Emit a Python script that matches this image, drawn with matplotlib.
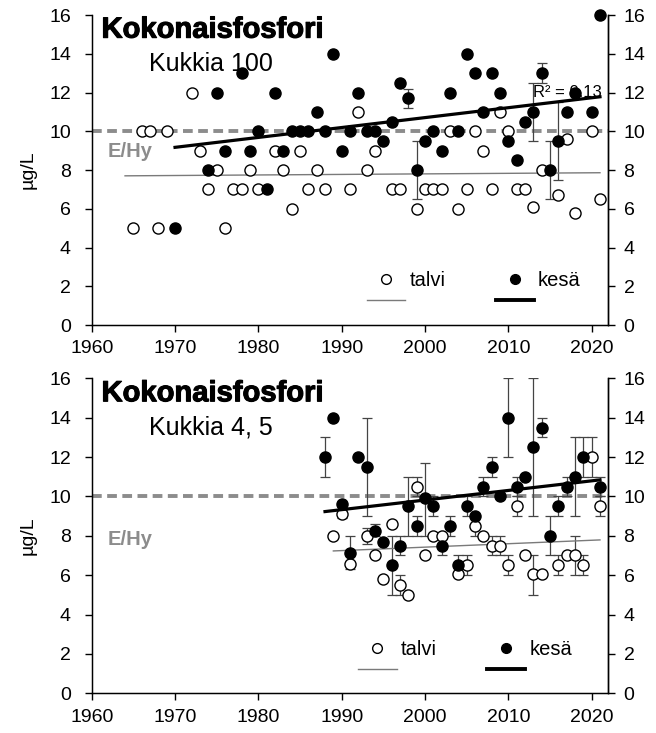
import matplotlib
matplotlib.use('Agg')
import matplotlib.pyplot as plt
import matplotlib.patheffects as pe
from matplotlib.lines import Line2D
import numpy as np

plt.rcParams['font.family'] = ['Liberation Sans', 'DejaVu Sans']

# --- Kukkia 100 (top panel) ---
top_talvi_years = [1965, 1966, 1967, 1968, 1969, 1972, 1973, 1974, 1975, 1976,
                   1977, 1978, 1979, 1980, 1982, 1983, 1984, 1985, 1986, 1987,
                   1988, 1991, 1992, 1993, 1994, 1996, 1997, 1999, 2000, 2001,
                   2002, 2003, 2004, 2005, 2006, 2007, 2008, 2009, 2010, 2011,
                   2012, 2013, 2014, 2016, 2017, 2018, 2020, 2021]
top_talvi_vals = [5, 10, 10, 5, 10, 12, 9, 7, 8, 5,
                  7, 7, 8, 7, 9, 8, 6, 9, 7, 8,
                  7, 7, 11, 8, 9, 7, 7, 6, 7, 7,
                  7, 10, 6, 7, 10, 9, 7, 11, 10, 7,
                  7, 6.1, 8, 6.7, 9.6, 5.8, 10, 6.5]

top_kesa_years = [1970, 1974, 1975, 1976, 1978, 1979, 1980, 1981, 1982, 1983,
                  1984, 1985, 1986, 1987, 1988, 1989, 1990, 1991, 1992, 1993,
                  1994, 1995, 1996, 1997, 1998, 1999, 2000, 2001, 2002, 2003,
                  2004, 2005, 2006, 2007, 2008, 2009, 2010, 2011, 2012, 2013,
                  2014, 2015, 2016, 2017, 2018, 2020, 2021]
top_kesa_vals = [5, 8, 12, 9, 13, 9, 10, 7, 12, 9,
                 10, 10, 10, 11, 10, 14, 9, 10, 12, 10,
                 10, 9.5, 10.5, 12.5, 11.7, 8, 9.5, 10, 9, 12,
                 10, 14, 13, 11, 13, 12, 9.5, 8.5, 10.5, 11,
                 13, 8, 9.5, 11, 12, 11, 16]

top_kesa_err_years = [1998, 1999, 2013, 2014, 2015, 2016]
top_kesa_err_low = [11.2, 6.5, 9.5, 12.5, 6.5, 7.5]
top_kesa_err_high = [12.2, 9.5, 12.5, 13.5, 9.5, 11.5]

top_talvi_trend_years = [1964, 2021]
top_talvi_trend_vals = [7.7, 7.86]
top_kesa_trend_years = [1970, 2021]
top_kesa_trend_vals = [9.17, 11.78]

# --- Kukkia 4, 5 (bottom panel) ---
bot_talvi_years = [1989, 1990, 1991, 1993, 1994, 1995, 1996, 1997, 1998, 1999,
                   2000, 2001, 2002, 2004, 2005, 2006, 2007, 2008, 2009, 2010,
                   2011, 2012, 2013, 2014, 2016, 2017, 2018, 2019, 2020, 2021]
bot_talvi_vals = [8.0, 9.1, 6.55, 8.0, 7.0, 5.8, 8.6, 5.5, 5.0, 10.5,
                  7.0, 8.0, 8.0, 6.05, 6.5, 8.5, 8.0, 7.5, 7.5, 6.5,
                  9.5, 7.0, 6.05, 6.05, 6.5, 7.0, 7.0, 6.5, 12.0, 9.5]

bot_talvi_err_years = [1990, 1993, 1997, 1999, 2005, 2006, 2008, 2009, 2010,
                       2011, 2013, 2016, 2018, 2019, 2020, 2021]
bot_talvi_err_low = [8.9, 7.6, 5.0, 10.0, 6.0, 8.0, 7.0, 7.0, 6.0,
                     9.0, 5.0, 6.0, 6.0, 6.0, 11.0, 9.0]
bot_talvi_err_high = [9.3, 8.4, 6.0, 11.0, 7.0, 9.0, 8.0, 8.0, 7.0,
                      10.0, 7.0, 7.0, 8.0, 7.0, 13.0, 10.0]

bot_kesa_years = [1988, 1989, 1990, 1991, 1992, 1993, 1994, 1995, 1996, 1997,
                  1998, 1999, 2000, 2001, 2002, 2003, 2004, 2005, 2006, 2007,
                  2008, 2009, 2010, 2011, 2012, 2013, 2014, 2015, 2016, 2017,
                  2018, 2019, 2021]
bot_kesa_vals = [12.0, 14.0, 9.6, 7.15, 12.0, 11.5, 8.25, 7.7, 6.5, 7.5,
                 9.5, 8.5, 9.9, 9.5, 7.5, 8.5, 6.5, 9.5, 9.0, 10.5,
                 11.5, 10.0, 14.0, 10.5, 11.0, 12.5, 13.5, 8.0, 9.5, 10.5,
                 11.0, 12.0, 10.5]

bot_kesa_err_years = [1988, 1991, 1993, 1994, 1996, 1997, 1998, 1999, 2000,
                      2001, 2002, 2003, 2004, 2005, 2007, 2008, 2010, 2011,
                      2013, 2014, 2015, 2016, 2017, 2018, 2019, 2021]
bot_kesa_err_low = [11.0, 6.3, 9.0, 8.0, 5.0, 7.0, 8.0, 8.0, 8.0,
                    9.0, 7.0, 8.0, 6.0, 9.0, 10.0, 11.0, 12.0, 10.0,
                    9.0, 13.0, 7.0, 9.0, 10.0, 9.0, 11.0, 10.0]
bot_kesa_err_high = [13.0, 8.0, 14.0, 8.6, 8.0, 8.0, 11.0, 9.0, 11.7,
                     10.0, 8.0, 9.0, 7.0, 10.0, 11.0, 12.0, 16.0, 11.0,
                     16.0, 14.0, 9.0, 10.0, 11.0, 13.0, 13.0, 11.0]

bot_talvi_trend_years = [1989, 2021]
bot_talvi_trend_vals = [7.23, 7.79]
bot_kesa_trend_years = [1988, 2021]
bot_kesa_trend_vals = [9.23, 10.84]

limit_value = 10  # E/Hy raja


def draw_errors(ax, years, vals, err_years, low, high):
    "Draw error bars for the years that have them"
    lookup = dict(zip(years, vals))
    y = np.array([lookup[yr] for yr in err_years])
    yerr = [y - np.array(low), np.array(high) - y]
    ax.errorbar(err_years, y, yerr=yerr, fmt='none', ecolor='#444444',
                elinewidth=0.9, capsize=3.5, capthick=0.9, zorder=2)


def panel(ax, subtitle, talvi, kesa, talvi_err, kesa_err, talvi_trend, kesa_trend,
          r2=None, leg_anchor=(0.53, 0.19)):
    ax.axhline(limit_value, color='#8c8c8c', lw=2.8, ls=(0, (2.5, 1.4)), zorder=1)
    if talvi_err:
        draw_errors(ax, *talvi, *talvi_err)
    if kesa_err:
        draw_errors(ax, *kesa, *kesa_err)
    ax.plot(*talvi_trend, color='#7a7a7a', lw=1.0, zorder=3)
    ax.plot(talvi[0], talvi[1], 'o', ms=8, mfc='white', mec='black', mew=1.0,
            ls='none', zorder=4, clip_on=False)
    ax.plot(kesa[0], kesa[1], 'o', ms=8, mfc='black', mec='black', mew=1.0,
            ls='none', zorder=5, clip_on=False)
    ax.plot(*kesa_trend, color='black', lw=2.3, zorder=6)

    ax.set_xlim(1960, 2022)
    ax.set_ylim(0, 16)
    ax.set_xticks(range(1960, 2021, 10))
    ax.set_yticks(range(0, 17, 2))
    ax.tick_params(axis='both', direction='out', length=5, width=1, labelsize=14)
    ax.tick_params(axis='y', pad=10)
    ax.tick_params(axis='x', pad=6)
    ax.spines['top'].set_visible(False)
    for s in ['left', 'right', 'bottom']:
        ax.spines[s].set_linewidth(1.0)
    ax.set_ylabel('µg/L', fontsize=14, labelpad=9)

    # right-hand axis with its own, smaller label pad
    axr = ax.twinx()
    axr.set_ylim(0, 16)
    axr.set_yticks(range(0, 17, 2))
    axr.tick_params(axis='y', direction='out', length=5, width=1, labelsize=14, pad=6)
    axr.spines['top'].set_visible(False)
    axr.spines['right'].set_linewidth(1.0)

    ax.text(0.019, 0.927, 'Kokonaisfosfori', transform=ax.transAxes,
            fontsize=21, fontweight='bold', va='baseline', ha='left',
            path_effects=[pe.withStroke(linewidth=0.8, foreground='black')])
    ax.text(0.111, 0.821, subtitle, transform=ax.transAxes,
            fontsize=18, va='baseline', ha='left')
    ax.text(0.03, 0.543 if r2 else 0.471, 'E/Hy', transform=ax.transAxes,
            fontsize=14.5, fontweight='bold', color='#8c8c8c', va='baseline')
    if r2:
        ax.text(0.855, 0.736, r2, transform=ax.transAxes, fontsize=12,
                va='baseline', ha='left')

    handles = [
        Line2D([], [], marker='o', ls='none', ms=7, mfc='white', mec='black'),
        Line2D([], [], color='#7a7a7a', lw=1.0),
        Line2D([], [], marker='o', ls='none', ms=7, mfc='black', mec='black'),
        Line2D([], [], color='black', lw=2.8),
    ]
    ax.legend(handles, ['talvi', '', 'kesä', ''], ncol=2, frameon=False,
              loc='upper left', bbox_to_anchor=leg_anchor, borderpad=0,
              fontsize=14.5, handlelength=1.9, handletextpad=0.2,
              columnspacing=2.5, labelspacing=0.1, borderaxespad=0)


fig = plt.figure(figsize=(6.56, 7.33), dpi=100)
ax1 = fig.add_axes([0.1398, 0.5566, 0.7875, 0.4229])
ax2 = fig.add_axes([0.1398, 0.0542, 0.7875, 0.4297])

panel(ax1, 'Kukkia 100',
      (top_talvi_years, top_talvi_vals), (top_kesa_years, top_kesa_vals),
      None, (top_kesa_err_years, top_kesa_err_low, top_kesa_err_high),
      (top_talvi_trend_years, top_talvi_trend_vals),
      (top_kesa_trend_years, top_kesa_trend_vals),
      r2='R² = 0.13', leg_anchor=(0.533, 0.174))

panel(ax2, 'Kukkia 4, 5',
      (bot_talvi_years, bot_talvi_vals), (bot_kesa_years, bot_kesa_vals),
      (bot_talvi_err_years, bot_talvi_err_low, bot_talvi_err_high),
      (bot_kesa_err_years, bot_kesa_err_low, bot_kesa_err_high),
      (bot_talvi_trend_years, bot_talvi_trend_vals),
      (bot_kesa_trend_years, bot_kesa_trend_vals),
      leg_anchor=(0.516, 0.17))

fig.savefig('out.png', dpi=100)
